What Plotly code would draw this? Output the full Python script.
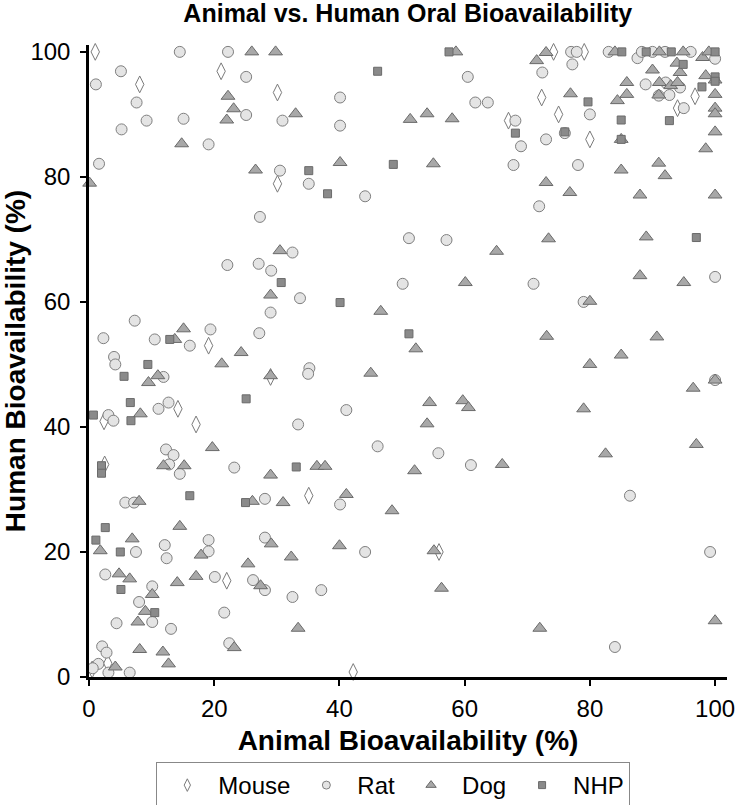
import plotly.graph_objects as go

mouse_x = [1, 21.1, 8.1, 30.1, 30.1, 74.2, 79.1, 72.3, 96.8, 75, 94, 67, 80, 29, 19.1, 14.2, 2.4, 17.1, 2.5, 22, 3, 0.5, 35.1, 55.9, 42.2]
mouse_y = [100, 96.9, 94.8, 93.5, 78.9, 100, 100, 92.7, 92.9, 90, 91, 89, 86, 48, 53, 42.9, 40.9, 40.4, 34, 15.4, 2.2, 1.2, 29, 20, 0.8]

rat_pts = [(14.5,100),(22.2,100),(5.1,96.9),(25.1,96),(1.1,94.8),(7.6,91.9),(25.1,89.9),(9.2,89),(15.1,89.3),(30.9,89),(5.2,87.6),(19.1,85.2),(1.6,82.1),(30.5,81),(27.3,73.6),(32.5,67.9),
(60.5,96),(40.1,92.7),(61.7,91.9),(63.7,91.9),(40.1,88.2),(35.1,78.9),(44.1,76.9),(51.1,70.2),(57.1,69.9),
(77,100),(77.9,100),(83,100),(87.6,99),(88.3,100),(90,100),(92,100),(96.1,100),(100,98.9),(77.2,98),(72.4,96.7),(88.9,94.8),(92.1,95.1),(94.4,94.3),(91,93),(92.7,93.1),(80,90),(95,91),(68.1,89),(69,84.9),(76,87),(73,86),(67.8,81.9),(78.1,81.9),(71.9,75.3),
(22.1,65.9),(27.1,66.1),(29.1,65),(33.7,60.6),(29,58.3),(7.3,57),(19.4,55.6),(27.2,55),(2.3,54.2),(10.5,54),(16.1,53),(4,51.2),(4.2,50),(11.9,48),(12.7,43.9),(11.1,42.9),(3.1,41.9),(3.9,41),(33.4,40.4),(12.3,36.4),(13.5,35.5),(12.8,34),(23.2,33.5),
(50.1,62.9),(35.2,49.4),(35,48.5),(41.1,42.7),(46.1,36.9),(55.8,35.8),(61,33.9),
(71,62.9),(100,64),(79,60),(100,47.5),
(14.5,32.5),(5.8,27.9),(7.2,27.9),(28.1,28.5),(19.1,21.9),(12.1,21.1),(28.1,22.3),(7.5,20),(12.4,19),(19.1,20.1),(2.6,16.4),(10.1,14.5),(20.1,16),(26.2,15.5),(28.1,13.9),(32.5,12.8),(8,12),(21.6,10.3),(4.4,8.6),(10.1,8.8),(13.1,7.7),(2.1,4.9),(2.8,3.9),(22.4,5.4),(1.5,2.1),(0.6,1.4),(3.1,0.7),(6.5,0.7),
(40.1,27.6),(44.1,20),(37.1,13.9),
(86.4,29),(99.2,20),(84,4.8)]
rat_x = [p[0] for p in rat_pts]
rat_y = [p[1] for p in rat_pts]

dog_pts = [(26,100),(29.8,100),(22.2,92.9),(23.1,90.9),(33,90.1),(22,89.1),(14.8,85.3),(26.6,81.1),(0.1,79),(30.5,68.2),
(58.6,100),(54,90.1),(51.3,89.2),(58,89.3),(40.1,82.3),(55,82.1),(65.1,68.1),
(73,99.9),(84,100),(91.1,100),(94.9,100),(98,99.1),(99,100),(71.5,98.6),(93.9,98.2),(90,97.1),(94.4,96.7),(98.5,96.2),(100,95.5),(85.9,95.1),(91.1,95.1),(92.9,94.6),(94,95.1),(76.9,93.3),(85.9,93.2),(84.4,92.2),(91,93.1),(100,93.2),(100,91),(100,90.1),(85,86),(100,87.2),(98.5,84.5),(85,81.1),(91,82.2),(92,80.2),(73,79.1),(76.8,77.5),(88,77.1),(100,77.1),(73.4,70.1),(89,70.4),
(29,61.1),(15.1,55.7),(13.7,54),(24.3,51.9),(21.2,50.1),(11,48.2),(9.5,47.1),(29,48.2),(8.2,42.1),(19.7,36.7),(11.9,33.8),(15.2,33.8),
(60.1,63.1),(46.6,58.5),(52.2,52.5),(45,48.6),(54.4,43.9),(59.7,44.2),(60.6,43.1),(54,40.5),(66,34),(36.4,33.7),(37.7,33.7),(52,33),
(88,64.2),(95,63.1),(80,60.1),(73.1,54.5),(90.7,54.4),(85,51.5),(80,50),(100,47.5),(96.5,46.2),(79,42.9),(97,37.2),(82.5,35.7),
(29,32.3),(8,28.1),(26.1,28.1),(31,27.9),(14.5,24.1),(6.9,22.1),(29.1,21.3),(1.8,20.2),(17.9,19.5),(25.4,18.1),(32.3,19.2),(4.8,16.5),(6.5,15.7),(10.1,13.2),(14.1,15.1),(17.1,16.1),(27.4,14.6),(9,10.5),(7.8,8.8),(33.4,7.8),(8.1,4.4),(11.8,4),(23.2,4.7),(4.2,1.6),(12.7,2.1),
(41.1,29.2),(48.4,26.6),(40,21),(55.1,20.2),(56.3,14.2),
(72,7.8),(100,9)]
dog_x = [p[0] for p in dog_pts]
dog_y = [p[1] for p in dog_pts]

nhp_pts = [(57.5,100),(46.1,96.9),(48.6,82),(35.1,81),(38.1,77.3),
(85.1,100),(89,100),(93,100),(100,100),(94.9,98),(100,96),(97.9,94.4),(100,95.3),(79.7,92),(85,89.1),(92.7,89),(68.1,87),(76,87.2),(85,86),(97,70.3),
(30.7,63.1),(12.9,54),(9.4,50),(5.6,48.1),(25.1,44.5),(6.6,43.9),(0.7,41.9),(6.7,41),(2,33.8),(33.1,33.6),
(40.1,59.9),(51.1,54.9),
(2,32.6),(16.1,29),(25,27.9),(2.6,23.9),(1.1,21.9),(5,20),(5.1,14),(10.5,10.3)]
nhp_x = [p[0] for p in nhp_pts]
nhp_y = [p[1] for p in nhp_pts]

series_names = ["Mouse", "Rat", "Dog", "NHP"]
tick_vals = [0, 20, 40, 60, 80, 100]

FONT = "Liberation Sans, Arial, Helvetica, sans-serif"

styles = {
    "Mouse": dict(symbol="diamond-tall", color="white", line=dict(color="#7a7a7a", width=1)),
    "Rat": dict(symbol="circle", color="#e4e4e4", line=dict(color="#7f7f7f", width=1)),
    "Dog": dict(symbol="triangle-up", color="#a8a8a8", line=dict(color="#6a6a6a", width=1)),
    "NHP": dict(symbol="square", color="#8a8a8a", line=dict(color="#6a6a6a", width=1)),
}
plot_sizes = {"Mouse": 12, "Rat": 11, "Dog": 12, "NHP": 8}
legend_sizes = {"Mouse": 9, "Rat": 8, "Dog": 9, "NHP": 7}
data = {"Mouse": (mouse_x, mouse_y), "Rat": (rat_x, rat_y), "Dog": (dog_x, dog_y), "NHP": (nhp_x, nhp_y)}

fig = go.Figure()
for name in series_names:
    xs, ys = data[name]
    fig.add_trace(go.Scatter(x=xs, y=ys, mode="markers", name=name, cliponaxis=False, showlegend=False,
                             legendgroup=name, marker=dict(size=plot_sizes[name], **styles[name])))
for name in series_names:
    fig.add_trace(go.Scatter(x=[None], y=[None], mode="markers", name=name, showlegend=True,
                             legendgroup=name, marker=dict(size=legend_sizes[name], **styles[name])))

axis_common = dict(showgrid=False, zeroline=False, showline=True, linecolor="black", linewidth=2.5,
                   ticks="outside", ticklen=6, tickwidth=2, tickcolor="black", automargin=False,
                   tickvals=tick_vals, tickfont=dict(family=FONT, size=24, color="black"))

fig.update_layout(
    width=736, height=805,
    paper_bgcolor="white", plot_bgcolor="white",
    margin=dict(l=89, r=9, t=45, b=128, autoexpand=False),
    title=dict(text="<b>Animal vs. Human Oral Bioavailability</b>", x=0.554, xanchor="center",
               y=0.995, yanchor="top", font=dict(family=FONT, size=25, color="black")),
    xaxis=dict(range=[0, 101.9], ticklabelstandoff=2,
               title=dict(text="<b>Animal Bioavailability (%)</b>", standoff=10,
                          font=dict(family=FONT, size=28, color="black")), **axis_common),
    yaxis=dict(range=[0, 101.1], ticklabelstandoff=5,
               title=dict(text="<b>Human Bioavailability (%)</b>", standoff=4,
                          font=dict(family=FONT, size=28, color="black")), **axis_common),
    legend=dict(orientation="h", x=0.477, xanchor="center", y=-0.1345, yanchor="top",
                itemwidth=52, bordercolor="#888888", borderwidth=1, bgcolor="white",
                font=dict(family=FONT, size=24, color="black")),
    showlegend=True,
)

fig.write_html("out.html", config={"displayModeBar": False},
               post_script="document.body.style.margin='0px';document.body.style.overflow='hidden';")
